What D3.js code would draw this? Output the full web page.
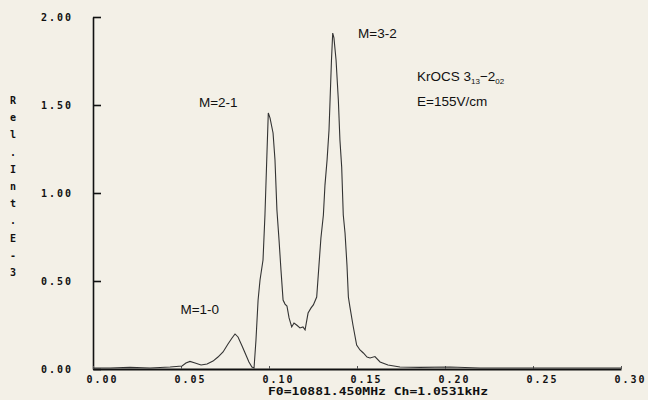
<!DOCTYPE html>
<meta charset="utf-8">
<style>
body { margin: 0; background: #f3f0e7; }
svg { display: block; }
text { fill: #111; }
.tick text { font-family: 'DejaVu Sans Mono', monospace; font-weight: bold; font-size: 10px; letter-spacing: 2px; }
.ann { font-family: 'Liberation Sans', Arial, sans-serif; font-size: 13.5px; }
.mono { font-family: 'DejaVu Sans Mono', monospace; font-weight: bold; font-size: 10px; }
</style>
<body>
<script src="https://cdn.jsdelivr.net/npm/d3@7"></script>
<script>

// frequency offset (MHz) and relative intensity
var freq = [0.0000, 0.0097, 0.0210, 0.0324, 0.0438, 0.0506, 0.0528, 0.0551, 0.0580, 0.0614,
  0.0648, 0.0682, 0.0710, 0.0739, 0.0767, 0.0790, 0.0807, 0.0824, 0.0847, 0.0869,
  0.0886, 0.0903, 0.0915, 0.0926, 0.0938, 0.0949, 0.0966, 0.0977, 0.0989, 0.0996,
  0.1006, 0.1023, 0.1034, 0.1045, 0.1057, 0.1068, 0.1080, 0.1091, 0.1102, 0.1114,
  0.1129, 0.1142, 0.1157, 0.1176, 0.1193, 0.1205, 0.1222, 0.1239, 0.1252, 0.1271,
  0.1284, 0.1295, 0.1309, 0.1318, 0.1330, 0.1341, 0.1347, 0.1355, 0.1362, 0.1369,
  0.1381, 0.1394, 0.1403, 0.1413, 0.1422, 0.1432, 0.1443, 0.1451, 0.1460, 0.1477,
  0.1498, 0.1517, 0.1536, 0.1557, 0.1574, 0.1602, 0.1631, 0.1676, 0.1744, 0.1858,
  0.2028, 0.2199, 0.2426, 0.2653, 0.2881, 0.3000];
var intensity = [0.006, 0.006, 0.009, 0.006, 0.011, 0.017, 0.034, 0.043, 0.034, 0.023,
  0.028, 0.045, 0.068, 0.097, 0.142, 0.176, 0.199, 0.182, 0.131, 0.080,
  0.040, 0.011, 0.006, 0.165, 0.392, 0.506, 0.619, 0.875, 1.244, 1.455,
  1.426, 1.341, 1.188, 0.903, 0.733, 0.563, 0.392, 0.369, 0.358, 0.290,
  0.239, 0.261, 0.250, 0.233, 0.239, 0.222, 0.318, 0.347, 0.364, 0.409,
  0.591, 0.744, 0.875, 1.045, 1.188, 1.358, 1.528, 1.756, 1.909, 1.881,
  1.756, 1.528, 1.301, 1.148, 0.875, 0.773, 0.591, 0.409, 0.352, 0.250,
  0.136, 0.108, 0.091, 0.068, 0.063, 0.071, 0.040, 0.023, 0.011, 0.009,
  0.011, 0.006, 0.006, 0.006, 0.006, 0.006];

var xTicks = [0, 0.05, 0.10, 0.15, 0.20, 0.25, 0.30];
var yTicks = [0, 0.5, 1.0, 1.5, 2.0];
var yLabel = "Rel.Int.E-3";

var labels = [
  {text: "M=1-0", f: 0.0497, v: 0.31},
  {text: "M=2-1", f: 0.0602, v: 1.49},
  {text: "M=3-2", f: 0.1506, v: 1.88}
];

var W = 648, H = 400;
var margin = {top: 17, right: 27, bottom: 31, left: 93};
var width = W - margin.left - margin.right,
    height = H - margin.top - margin.bottom;

var x = d3.scaleLinear().domain([0, 0.3]).range([0, width]);
var y = d3.scaleLinear().domain([0, 2]).range([height, 0]);

var svg = d3.select("body").append("svg")
    .attr("width", W)
    .attr("height", H);
var g = svg.append("g")
    .attr("transform", "translate(" + margin.left + "," + margin.top + ")");

// y axis: ticks point inward
var yAxis = g.append("g")
    .call(d3.axisLeft(y).tickValues(yTicks).tickSize(-8).tickSizeOuter(0)
      .tickPadding(20).tickFormat(d3.format(".2f")));
yAxis.select(".domain").attr("stroke", "#111").attr("stroke-width", 1.6);
yAxis.selectAll(".tick line").attr("stroke", "#111").attr("stroke-width", 1.6);

// x axis: tiny tick marks above the line, labels below
var xAxis = g.append("g")
    .attr("transform", "translate(0," + height + ")")
    .call(d3.axisBottom(x).tickValues(xTicks).tickSize(-3).tickSizeOuter(0)
      .tickPadding(7).tickFormat(d3.format(".2f")));
xAxis.select(".domain").attr("stroke", "#111").attr("stroke-width", 2.2);
xAxis.selectAll(".tick line").attr("stroke", "#555").attr("stroke-width", 1);
xAxis.selectAll(".tick text").attr("text-anchor", "start").attr("x", -7);

// spectrum trace
var data = freq.map(function(f, i) { return {f: f, v: intensity[i]}; });
var line = d3.line()
    .x(function(d) { return x(d.f); })
    .y(function(d) { return y(d.v); });
g.append("path")
    .datum(data)
    .attr("fill", "none")
    .attr("stroke", "#333")
    .attr("stroke-width", 1.1)
    .attr("d", line);

// peak labels
g.selectAll(".peak")
    .data(labels)
  .enter().append("text")
    .attr("class", "ann")
    .attr("x", function(d) { return x(d.f); })
    .attr("y", function(d) { return y(d.v); })
    .text(function(d) { return d.text; });

// title block
var t1 = g.append("text").attr("class", "ann")
    .attr("x", x(0.1841)).attr("y", y(1.635));
t1.append("tspan").text("KrOCS  3");
t1.append("tspan").attr("font-size", "8px").attr("dy", 3).text("13");
t1.append("tspan").attr("dy", -3).text("\u22122");
t1.append("tspan").attr("font-size", "8px").attr("dy", 3).text("02");
g.append("text").attr("class", "ann")
    .attr("x", x(0.1841)).attr("y", y(1.495))
    .text("E=155V/cm");

// stacked y label
var yl = svg.append("text").attr("class", "mono")
    .attr("text-anchor", "middle");
yl.selectAll("tspan")
    .data(yLabel.split(""))
  .enter().append("tspan")
    .attr("x", 13)
    .attr("y", function(d, i) { return 104 + i * 17.2; })
    .text(function(d) { return d; });

// footer
svg.append("text").attr("class", "mono")
    .attr("x", 268).attr("y", 395)
    .attr("textLength", 220).attr("lengthAdjust", "spacingAndGlyphs")
    .text("F0=10881.450MHz Ch=1.0531kHz");

</script>
</body>
